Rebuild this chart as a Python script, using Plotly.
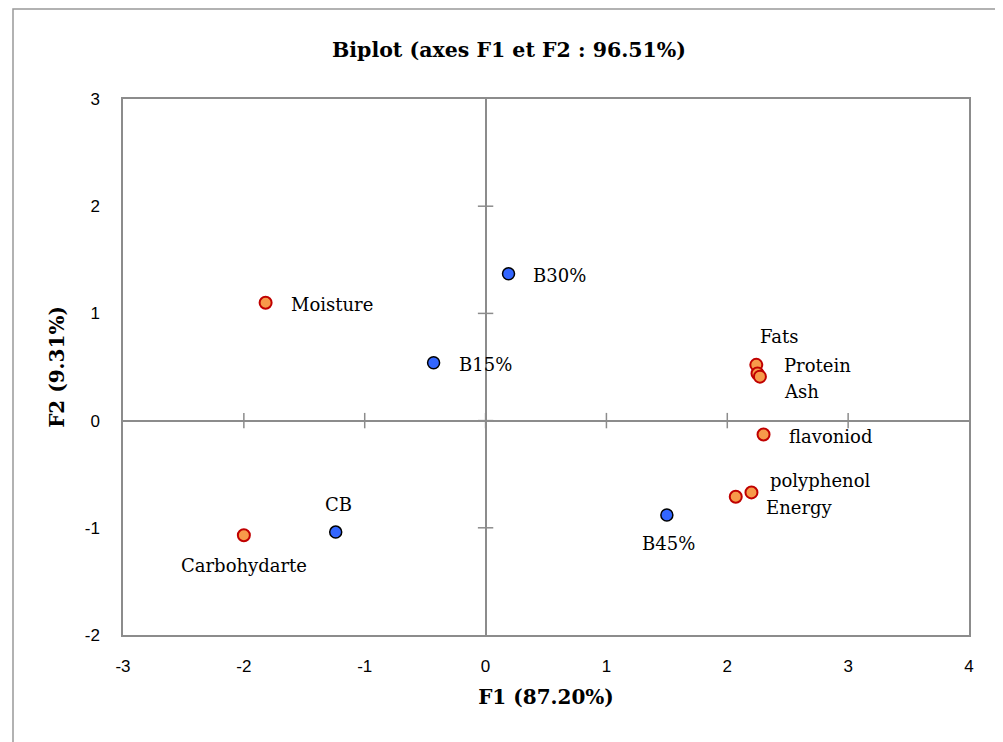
import plotly.graph_objects as go

# ---- data ----
var_names = ["Moisture", "Fats", "Protein", "Ash", "flavoniod", "polyphenol", "Energy", "Carbohydarte"]
var_f1 = [-1.82, 2.24, 2.25, 2.27, 2.30, 2.20, 2.07, -2.00]
var_f2 = [1.10, 0.52, 0.44, 0.41, -0.13, -0.67, -0.71, -1.07]

obs_names = ["B30%", "B15%", "B45%", "CB"]
obs_f1 = [0.19, -0.43, 1.50, -1.24]
obs_f2 = [1.37, 0.54, -0.88, -1.04]

x_ticks = [-3, -2, -1, 0, 1, 2, 3, 4]
y_ticks = [-2, -1, 0, 1, 2, 3]

# label offsets in pixels (xshift, yshift, xanchor)
label_style = {
    "Moisture": (23, -2, "left"),
    "B30%": (22, -2, "left"),
    "B15%": (23, -2, "left"),
    "Fats": (23, 28, "center"),
    "Protein": (24, 8, "left"),
    "Ash": (22, -15, "left"),
    "flavoniod": (23, -2, "left"),
    "polyphenol": (17, 12, "left"),
    "Energy": (28, -11, "left"),
    "B45%": (2, -29, "center"),
    "CB": (3, 28, "center"),
    "Carbohydarte": (0, -30, "center"),
}

GRAY = "#8c8c8c"
SERIF = "DejaVu Serif"
W, H = 995, 734

fig = go.Figure()

# tick crosses on the zero lines
fig.add_trace(go.Scatter(
    x=[t for t in x_ticks if t not in (-3, 4)], y=[0] * (len(x_ticks) - 2),
    mode="markers", hoverinfo="skip", showlegend=False,
    marker=dict(symbol="line-ns", size=11, line=dict(color=GRAY, width=1.5)),
))
fig.add_trace(go.Scatter(
    x=[0] * (len(y_ticks) - 2), y=[t for t in y_ticks if t not in (-2, 3)],
    mode="markers", hoverinfo="skip", showlegend=False,
    marker=dict(symbol="line-ew", size=11, line=dict(color=GRAY, width=1.5)),
))

fig.add_trace(go.Scatter(
    x=var_f1, y=var_f2, mode="markers", name="Variables", showlegend=False,
    marker=dict(size=12, color="#F79A4A", line=dict(color="#C00000", width=2)),
))
fig.add_trace(go.Scatter(
    x=obs_f1, y=obs_f2, mode="markers", name="Observations", showlegend=False,
    marker=dict(size=12, color="#3366FF", line=dict(color="black", width=1.5)),
))

annotations = []
for names, xs, ys in [(var_names, var_f1, var_f2), (obs_names, obs_f1, obs_f2)]:
    for n, xv, yv in zip(names, xs, ys):
        dx, dy, anc = label_style[n]
        annotations.append(dict(
            x=xv, y=yv, text=n, showarrow=False, xanchor=anc, yanchor="middle",
            xshift=dx, yshift=dy, font=dict(family=SERIF, size=18, color="black"),
        ))

fig.update_layout(
    width=W, height=H,
    margin=dict(l=115, r=34, t=91, b=107),
    paper_bgcolor="white", plot_bgcolor="white",
    title=dict(text="<b>Biplot (axes F1 et F2 : 96.51%)</b>", xref="container", yref="container",
               x=501 / W, y=1 - 42 / H, xanchor="center", yanchor="middle",
               font=dict(family=SERIF, size=20.5, color="black")),
    annotations=annotations,
    shapes=[dict(type="rect", xref="paper", yref="paper",
                 x0=-110 / 846, x1=1.06, y0=-0.22, y1=1 + 90 / 536,
                 line=dict(color="#999999", width=1.5), layer="below")],
)

fig.update_xaxes(
    range=[-3, 4], tickvals=x_ticks, ticktext=[str(t) for t in x_ticks], showgrid=False,
    zeroline=True, zerolinecolor=GRAY, zerolinewidth=1.5,
    showline=True, mirror=True, linecolor=GRAY, linewidth=1.5,
    ticks="", ticklabelstandoff=15,
    tickfont=dict(family="Liberation Sans", size=17, color="black"),
    title=dict(text="<b>F1 (87.20%)</b>", standoff=15,
               font=dict(family=SERIF, size=20, color="black")),
)
fig.update_yaxes(
    range=[-2, 3], tickvals=y_ticks, ticktext=[str(t) for t in y_ticks], showgrid=False,
    zeroline=True, zerolinecolor=GRAY, zerolinewidth=1.5,
    showline=True, mirror=True, linecolor=GRAY, linewidth=1.5,
    ticks="", ticklabelstandoff=18,
    tickfont=dict(family="Liberation Sans", size=17, color="black"),
    title=dict(text="<b>F2 (9.31%)</b>", standoff=15,
               font=dict(family=SERIF, size=20, color="black")),
)

fig.write_html("out.html")
